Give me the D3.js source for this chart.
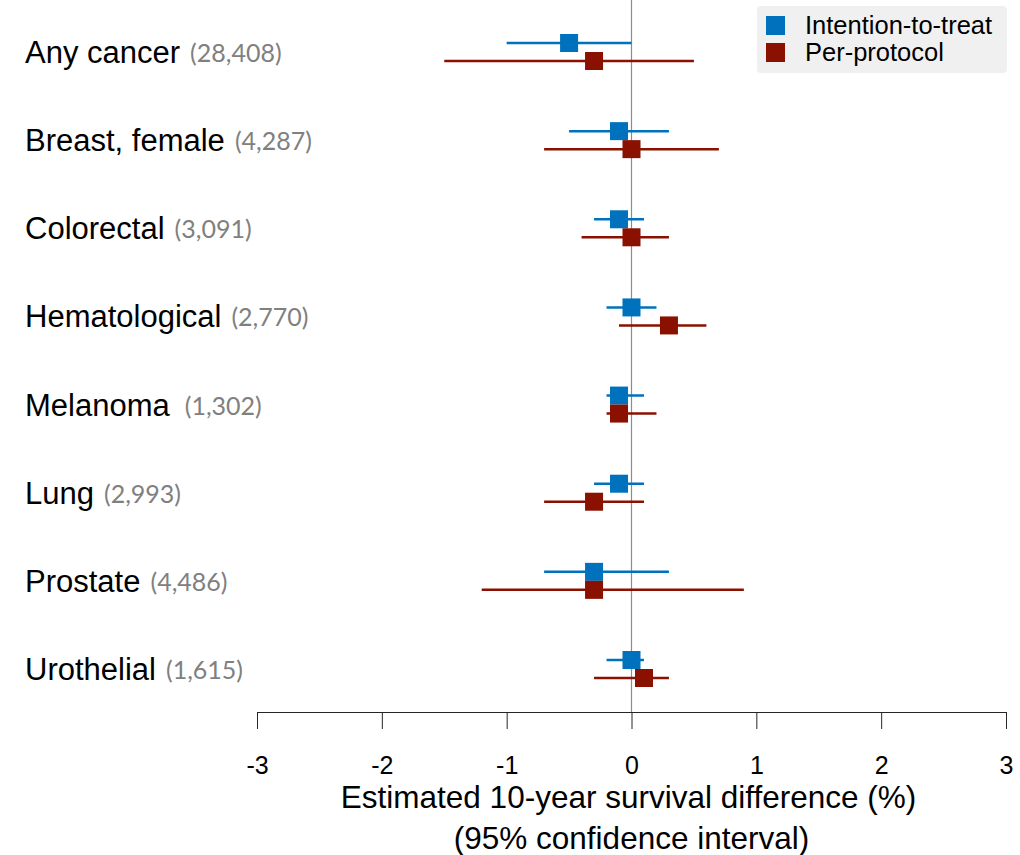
<!DOCTYPE html>
<html lang="en">
<head>
<meta charset="UTF-8">
<title>Forest plot</title>
<script src="https://cdn.jsdelivr.net/npm/d3@7"></script>
<style>
  body { margin: 0; background: #fff; }
  svg { display: block; }
</style>
</head>
<body>
<svg id="chart" width="1020" height="855"></svg>
<script>
// data
const categories = ["Any cancer", "Breast, female", "Colorectal", "Hematological", "Melanoma", "Lung", "Prostate", "Urothelial"];
const counts = ["(28,408)", "(4,287)", "(3,091)", "(2,770)", "(1,302)", "(2,993)", "(4,486)", "(1,615)"];
const ittEst = [-0.5, -0.1, -0.1, 0.0, -0.1, -0.1, -0.3, 0.0];
const ittLow = [-1.0, -0.5, -0.3, -0.2, -0.2, -0.3, -0.7, -0.2];
const ittHigh = [0.0, 0.3, 0.1, 0.2, 0.1, 0.1, 0.3, 0.1];
const ppEst = [-0.3, 0.0, 0.0, 0.3, -0.1, -0.3, -0.3, 0.1];
const ppLow = [-1.5, -0.7, -0.4, -0.1, -0.2, -0.7, -1.2, -0.3];
const ppHigh = [0.5, 0.7, 0.3, 0.6, 0.2, 0.1, 0.9, 0.3];
const xTicks = [-3, -2, -1, 0, 1, 2, 3];
const seriesNames = ["Intention-to-treat", "Per-protocol"];

const colors = ["#0072bd", "#8a1000"];
const sansFont = "Liberation Sans, Arial, sans-serif";

const svg = d3.select("#chart");

const x = d3.scaleLinear().domain([-3, 3]).range([257, 1006]);
const y = d3.scalePoint().domain(categories).range([52, 669]);
const axisY = 712;

// zero line
svg.append("line")
  .attr("x1", x(0)).attr("x2", x(0))
  .attr("y1", 0).attr("y2", axisY)
  .attr("stroke", "#8c8c8c").attr("stroke-width", 1.2);

// x axis
const xAxis = svg.append("g")
  .attr("transform", "translate(0," + axisY + ")")
  .call(d3.axisBottom(x).tickValues(xTicks).tickSize(17).tickSizeOuter(0).tickFormat(d3.format("d")));
xAxis.select(".domain").attr("stroke", "#262626").attr("stroke-width", 1);
xAxis.selectAll(".tick line").attr("stroke", "#262626");
xAxis.selectAll(".tick text")
  .attr("y", 44)
  .attr("font-family", sansFont)
  .attr("font-size", 25)
  .attr("fill", "#000")
  .text(d => d < 0 ? "-" + Math.abs(d) : d);

svg.append("text")
  .attr("x", x(0) - 3).attr("y", 808)
  .attr("text-anchor", "middle")
  .attr("font-family", sansFont)
  .attr("font-size", 31.5)
  .text("Estimated 10-year survival difference (%)");
svg.append("text")
  .attr("x", x(0)).attr("y", 849)
  .attr("text-anchor", "middle")
  .attr("font-family", sansFont)
  .attr("font-size", 31.5)
  .text("(95% confidence interval)");

// category labels
const labels = svg.append("g").selectAll("text")
  .data(categories).enter()
  .append("text")
  .attr("x", 25)
  .attr("y", d => y(d) + 11)
  .attr("font-family", sansFont)
  .attr("font-size", 31)
  .attr("fill", "#000");
labels.append("tspan").text(d => d);
labels.append("tspan")
  .attr("dx", (d, i) => categories[i] === "Melanoma" ? 15 : 10)
  .attr("dy", -1)
  .attr("font-family", "Lato, 'Open Sans', sans-serif")
  .attr("font-size", 25)
  .attr("fill", "#808080")
  .text((d, i) => counts[i]);

// series
const series = [
  { est: ittEst, low: ittLow, high: ittHigh, off: -9, color: colors[0] },
  { est: ppEst, low: ppLow, high: ppHigh, off: 9, color: colors[1] }
];
const sq = 18;

series.forEach(s => {
  const g = svg.append("g");
  g.selectAll("line")
    .data(categories).enter()
    .append("line")
    .attr("x1", (d, i) => x(s.low[i]))
    .attr("x2", (d, i) => x(s.high[i]))
    .attr("y1", d => y(d) + s.off)
    .attr("y2", d => y(d) + s.off)
    .attr("stroke", s.color)
    .attr("stroke-width", 2.5);
  g.selectAll("rect")
    .data(categories).enter()
    .append("rect")
    .attr("x", (d, i) => x(s.est[i]) - sq / 2)
    .attr("y", d => y(d) + s.off - sq / 2)
    .attr("width", sq).attr("height", sq)
    .attr("fill", s.color);
});

// legend
const legend = svg.append("g").attr("transform", "translate(757,6)");
legend.append("rect")
  .attr("width", 250).attr("height", 67)
  .attr("rx", 4)
  .attr("fill", "#f0f0f0");
seriesNames.forEach((name, i) => {
  legend.append("rect")
    .attr("x", 9).attr("y", 10 + i * 27)
    .attr("width", 19).attr("height", 19)
    .attr("fill", colors[i]);
  legend.append("text")
    .attr("x", 48).attr("y", 28 + i * 27)
    .attr("font-family", sansFont)
    .attr("font-size", 25.5)
    .attr("fill", "#000")
    .text(name);
});
</script>
</body>
</html>
